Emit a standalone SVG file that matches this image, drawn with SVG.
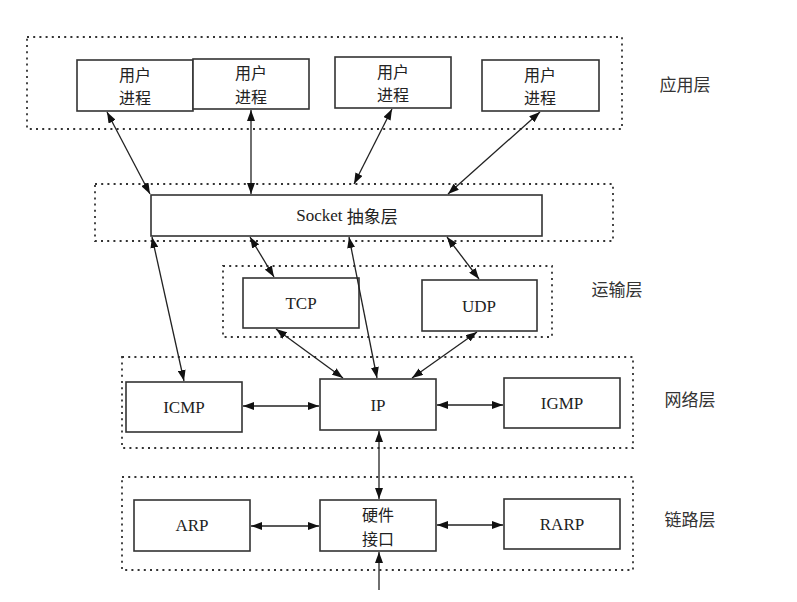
<svg xmlns="http://www.w3.org/2000/svg" width="797" height="602" viewBox="0 0 797 602">
<style>
.bg{fill:#fff}
.layer{fill:none;stroke:#333;stroke-width:1.8;stroke-dasharray:2 4.2}
.box{fill:#fff;stroke:#333;stroke-width:1.6}
.cjk{font-family:"Noto Sans CJK SC","Noto Sans",sans-serif;font-size:16px;fill:#222;text-anchor:middle;dominant-baseline:central}
.lat{font-family:"Liberation Serif","Times New Roman",serif;font-size:17px;fill:#222;text-anchor:middle;dominant-baseline:central}
.lbl{font-family:"Noto Sans CJK SC","Noto Sans",sans-serif;font-size:17px;fill:#333;text-anchor:middle;dominant-baseline:central}
.c{fill:none;stroke:#222;stroke-width:1.3;marker-end:url(#ah);marker-start:url(#ah)}
.c1{fill:none;stroke:#222;stroke-width:1.3;marker-end:url(#ah)}
</style>
<defs>
<marker id="ah" viewBox="0 0 11 8" refX="11" refY="4" markerWidth="11" markerHeight="8" markerUnits="userSpaceOnUse" orient="auto-start-reverse">
<path d="M0,0 L11,4 L0,8 z" fill="#111"/>
</marker>
</defs>
<rect class="bg" x="0" y="0" width="797" height="602"/>

<g id="layers">
<rect class="layer" x="27" y="37" width="595" height="92"/>
<rect class="layer" x="95" y="184" width="518" height="57"/>
<rect class="layer" x="223" y="266" width="329" height="71"/>
<rect class="layer" x="122" y="357" width="511" height="91"/>
<rect class="layer" x="122" y="477" width="511" height="93"/>
</g>

<g id="layer-labels">
<text class="lbl" x="685" y="83">应用层</text>
<text class="lbl" x="617" y="288">运输层</text>
<text class="lbl" x="690" y="398">网络层</text>
<text class="lbl" x="690" y="518">链路层</text>
</g>

<g id="user1">
<rect class="box" x="77" y="60" width="116" height="51"/>
<text class="cjk" x="135" y="73.5">用户</text>
<text class="cjk" x="135" y="97">进程</text>
</g>
<g id="user2">
<rect class="box" x="193" y="59" width="116" height="50"/>
<text class="cjk" x="251" y="72">用户</text>
<text class="cjk" x="251" y="95.5">进程</text>
</g>
<g id="user3">
<rect class="box" x="335" y="57" width="116" height="51"/>
<text class="cjk" x="393" y="70.5">用户</text>
<text class="cjk" x="393" y="94">进程</text>
</g>
<g id="user4">
<rect class="box" x="482" y="60" width="117" height="51"/>
<text class="cjk" x="540" y="73.5">用户</text>
<text class="cjk" x="540" y="97">进程</text>
</g>

<g id="socket">
<rect class="box" x="151" y="195" width="391" height="41"/>
<text x="347" y="215" style="font-size:17px;fill:#222;text-anchor:middle;dominant-baseline:central"><tspan style="font-family:'Liberation Serif',serif">Socket </tspan><tspan style="font-family:'Noto Sans CJK SC',sans-serif">抽象层</tspan></text>
</g>

<g id="tcp">
<rect class="box" x="243" y="278" width="116" height="50"/>
<text class="lat" x="301" y="303">TCP</text>
</g>
<g id="udp">
<rect class="box" x="422" y="280" width="115" height="51"/>
<text class="lat" x="479" y="306">UDP</text>
</g>

<g id="icmp">
<rect class="box" x="126" y="382" width="116" height="50"/>
<text class="lat" x="184" y="407">ICMP</text>
</g>
<g id="ip">
<rect class="box" x="320" y="379" width="116" height="51"/>
<text class="lat" x="378" y="405">IP</text>
</g>
<g id="igmp">
<rect class="box" x="504" y="378" width="116" height="50"/>
<text class="lat" x="562" y="403">IGMP</text>
</g>

<g id="arp">
<rect class="box" x="134" y="500" width="116" height="51"/>
<text class="lat" x="192" y="525">ARP</text>
</g>
<g id="hw">
<rect class="box" x="320" y="500" width="116" height="51"/>
<text class="cjk" x="378" y="514">硬件</text>
<text class="cjk" x="378" y="537.5">接口</text>
</g>
<g id="rarp">
<rect class="box" x="504" y="499" width="116" height="50"/>
<text class="lat" x="562" y="524">RARP</text>
</g>

<g id="connectors">
<line class="c" x1="107" y1="112" x2="150" y2="194"/>
<line class="c" x1="251" y1="110" x2="251" y2="194"/>
<line class="c" x1="392" y1="109" x2="354" y2="184"/>
<line class="c" x1="540" y1="112" x2="448" y2="194"/>
<line class="c" x1="152" y1="237" x2="184" y2="381"/>
<line class="c" x1="250" y1="237" x2="274" y2="277"/>
<line class="c" x1="349" y1="237" x2="377" y2="378"/>
<line class="c" x1="447" y1="237" x2="479" y2="279"/>
<line class="c" x1="276" y1="329" x2="343" y2="378"/>
<line class="c" x1="477" y1="332" x2="412" y2="378"/>
<line class="c" x1="243" y1="406" x2="319" y2="406"/>
<line class="c" x1="437" y1="405" x2="503" y2="405"/>
<line class="c" x1="379" y1="431" x2="379" y2="499"/>
<line class="c" x1="251" y1="526" x2="319" y2="526"/>
<line class="c" x1="437" y1="525" x2="503" y2="525"/>
<line class="c1" x1="379" y1="590" x2="379" y2="552"/>
</g>
</svg>
